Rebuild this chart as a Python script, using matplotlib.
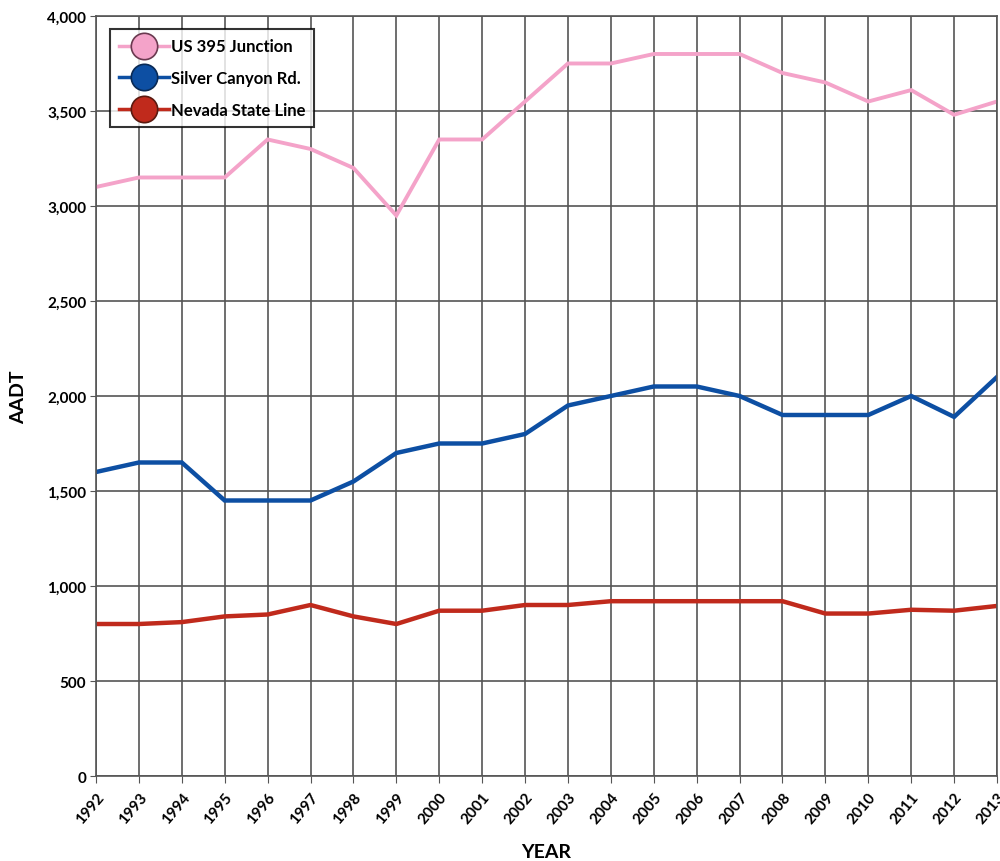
import matplotlib
matplotlib.use("Agg")
import matplotlib.pyplot as plt
from matplotlib.lines import Line2D
from matplotlib.ticker import FuncFormatter, MultipleLocator

years = list(range(1992, 2014))
us395 = [3100, 3150, 3150, 3150, 3350, 3300, 3200, 2950, 3350, 3350, 3550,
         3750, 3750, 3800, 3800, 3800, 3700, 3650, 3550, 3610, 3480, 3550]
silver = [1600, 1650, 1650, 1450, 1450, 1450, 1550, 1700, 1750, 1750, 1800,
          1950, 2000, 2050, 2050, 2000, 1900, 1900, 1900, 2000, 1890, 2100]
nevada = [800, 800, 810, 840, 850, 900, 840, 800, 870, 870, 900,
          900, 920, 920, 920, 920, 920, 855, 855, 875, 870, 895]
series_names = ["US 395 Junction", "Silver Canyon Rd.", "Nevada State Line"]
colors = ["#F4A3C9", "#0D4FA3", "#C02A1C"]
edges = ["#6a3a50", "#0a2a55", "#5a1a10"]

plt.rcParams['font.family'] = ['Lato', 'DejaVu Sans']

fig = plt.figure(figsize=(10, 8.62), dpi=100)
ax = fig.add_axes([0.096, 0.0986, 0.901, 0.8817])

widths = [2.8, 3.2, 3.2]
for vals, c, w in zip([us395, silver, nevada], colors, widths):
    ax.plot(years, vals, color=c, lw=w, solid_joinstyle='miter')

ax.set_xlim(1992, 2013)
ax.set_ylim(0, 4000)
ax.set_xticks(years)
ax.set_xticklabels([str(y) for y in years], rotation=50, ha='right',
                   rotation_mode='anchor', fontsize=11, fontweight='bold')
ax.yaxis.set_major_locator(MultipleLocator(500))
ax.yaxis.set_major_formatter(FuncFormatter(lambda v, p: f"{int(v):,}"))
for lab in ax.get_yticklabels():
    lab.set_fontsize(11)
    lab.set_fontweight('bold')
ax.grid(True, color='#555555', lw=1.2)
ax.set_axisbelow(True)
for s in ax.spines.values():
    s.set_color('#555555')
    s.set_linewidth(1.2)
ax.tick_params(axis='x', length=5, color='#555555', pad=5)
ax.tick_params(axis='y', length=4, color='#555555', pad=3)

ax.set_xlabel("YEAR", fontsize=14, fontweight='bold', labelpad=12)
ax.set_ylabel("AADT", fontsize=14, fontweight='bold', labelpad=14)

handles = [Line2D([0], [0], color=c, lw=2.5, marker='o', markersize=19,
                  markerfacecolor=c, markeredgecolor=e, markeredgewidth=1.2,
                  markevery=[0])
           for c, e in zip(colors, edges)]
leg = ax.legend(handles, series_names, loc='upper left',
                bbox_to_anchor=(0.006, 0.9935), frameon=True,
                fancybox=False, edgecolor='black', handlelength=3.0,
                handletextpad=0.1, borderpad=0.55, labelspacing=0.95,
                prop={'weight': 'bold', 'size': 12})
leg.get_frame().set_linewidth(1.5)

fig.savefig("out.png", dpi=100)
